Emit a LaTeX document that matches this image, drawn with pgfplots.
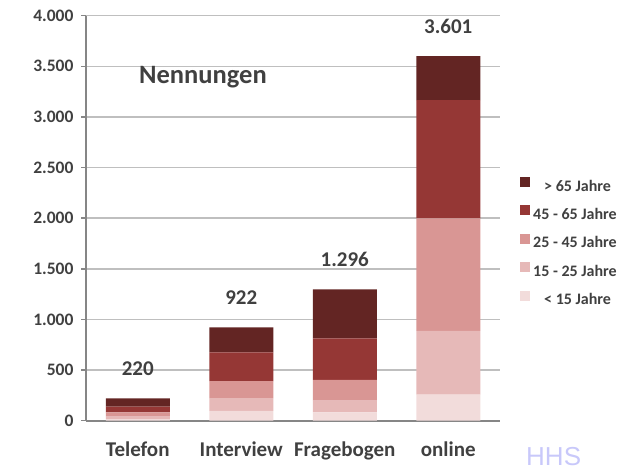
\documentclass[border=0pt]{standalone}
\usepackage{fontspec}
\setmainfont{Carlito}
\newfontfamily\hhsfont{Liberation Sans}
\usepackage{pgfplots}
\usepackage{pgfplotstable}
\pgfplotsset{compat=1.18}
\definecolor{cA}{HTML}{F2DCDB}
\definecolor{cB}{HTML}{E6B9B8}
\definecolor{cC}{HTML}{D99694}
\definecolor{cD}{HTML}{953735}
\definecolor{cE}{HTML}{632523}
\definecolor{txt}{HTML}{404040}
\definecolor{axgray}{HTML}{868686}
\definecolor{gridgray}{HTML}{BFBFBF}
\definecolor{hhs}{RGB}{200,200,250}

\pgfplotstableread{
x lt15 a15 a25 a45 gt65 sum total
0 15 25 42 57 81 220 220
1 96 128 168 283 247 922 922
2 83 115 204 412 482 1296 1.296
3 257 629 1113 1168 434 3601 3.601
}\data

\begin{document}
\begin{tikzpicture}
\useasboundingbox (0,0) rectangle (631bp,470bp);
\begin{axis}[
  at={(86bp,49.3bp)}, anchor=south west,
  scale only axis, width=414bp, height=405bp,
  ybar stacked, bar width=64bp,
  xmin=-0.5, xmax=3.5, ymin=0, ymax=4000,
  xtick={0,1,2,3}, xticklabels={Telefon,Interview,Fragebogen,online},
  xtick style={draw=none},
  extra x ticks={-0.5,0.5,1.5,2.5,3.5}, extra x tick labels={},
  extra x tick style={tick style={draw=axgray, line width=1.5bp}, tick align=outside},
  ytick={0,500,...,4000},
  ymajorgrids, grid style={gridgray, line width=1.5bp},
  ytick align=outside,
  major tick length=5bp,
  axis x line*=bottom, axis y line*=left,
  x axis line style={axgray, line width=2bp, -},
  y axis line style={axgray, line width=1.5bp, -},
  ytick style={axgray, line width=1.5bp},
  scaled y ticks=false,
  /pgf/number format/1000 sep={.},
  /pgf/number format/assume math mode=true,
  tick label style={font=\fontsize{17.5bp}{19bp}\selectfont\bfseries, text=txt},
  yticklabel style={xshift=-4bp},
  xticklabel style={font=\fontsize{21bp}{23bp}\selectfont\bfseries, yshift=-18bp},
  reverse legend,
  legend cell align=left,
  legend image code/.code={\fill[#1] (0bp,0bp) rectangle (10bp,10bp);},
  legend style={at={(1.041,0.607)}, anchor=north west, draw=none, fill=none,
    font=\fontsize{16bp}{18bp}\selectfont\bfseries, text=txt,
    row sep=10.4bp,
    nodes={inner sep=0pt, text height=12bp, text depth=4bp},
    /tikz/every odd column/.append style={column sep=3bp}},
]
\addplot[fill=cA, draw=none] table[x=x,y=lt15]{\data};
\addplot[fill=cB, draw=none] table[x=x,y=a15]{\data};
\addplot[fill=cC, draw=none] table[x=x,y=a25]{\data};
\addplot[fill=cD, draw=none] table[x=x,y=a45]{\data};
\addplot[fill=cE, draw=none] table[x=x,y=gt65]{\data};
\legend{\hspace*{11bp}< 15 Jahre, 15 - 25 Jahre, 25 - 45 Jahre, 45 - 65 Jahre, \hspace*{11bp}> 65 Jahre}
\end{axis}
\begin{axis}[
  at={(86bp,49.3bp)}, anchor=south west,
  scale only axis, width=414bp, height=405bp,
  xmin=-0.5, xmax=3.5, ymin=0, ymax=4000,
  hide axis, clip=false,
]
\addplot[only marks, mark=none, nodes near coords, point meta=explicit symbolic,
  every node near coord/.append style={font=\fontsize{21bp}{24bp}\selectfont\bfseries, text=txt, anchor=base, yshift=23bp, inner sep=0pt}]
  table[x=x,y=sum,meta=total]{\data};
\end{axis}
\node[anchor=base west, font=\fontsize{26.5bp}{29bp}\selectfont\bfseries, text=txt, inner sep=0pt] at (139bp,386bp) {Nennungen};
\node[anchor=base west, font=\hhsfont\fontsize{26bp}{28bp}\selectfont, text=hhs, inner sep=0pt] at (526bp,4.5bp) {HHS};
\end{tikzpicture}
\end{document}
